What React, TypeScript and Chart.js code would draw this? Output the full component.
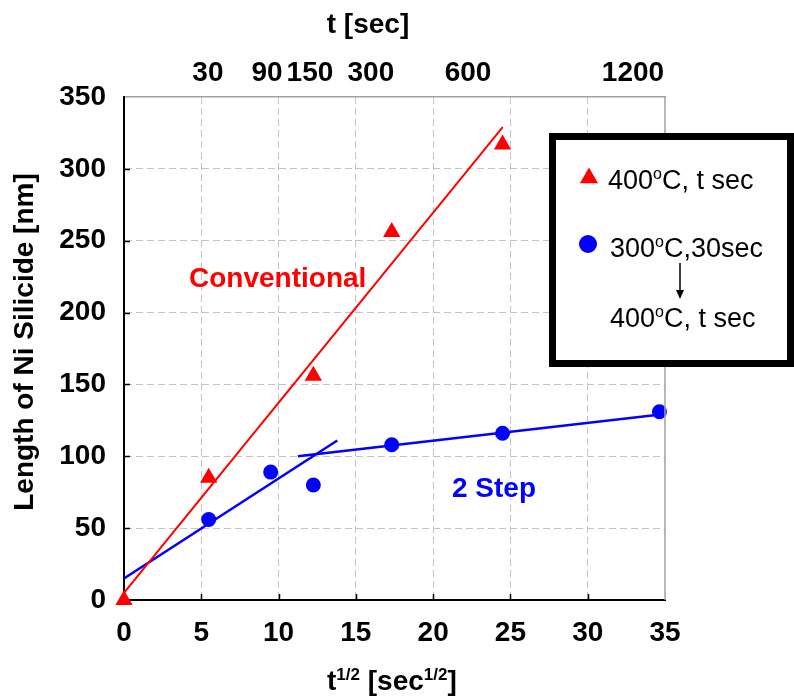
import React, { useEffect, useRef } from 'react';
import { Chart, registerables } from 'chart.js';

Chart.register(...registerables);

// ---- Data ----
const conventionalX = [0, 5.48, 12.25, 17.32, 24.49];
const conventionalY = [0, 85, 156, 256, 317];
const twoStepX = [5.48, 9.49, 12.25, 17.32, 24.49, 34.64];
const twoStepY = [56, 89, 80, 108, 116, 131];
const convFitX = [0, 24.5];
const convFitY = [5, 329];
const twoStepFit1X = [0, 13.8];
const twoStepFit1Y = [15, 111];
const twoStepFit2X = [11.25, 35];
const twoStepFit2Y = [100, 129.5];
const topTickPositions = [5.43, 9.25, 12.03, 15.97, 22.26, 32.93];
const topTickLabels = ['30', '90', '150', '300', '600', '1200'];
const xTickValues = [0, 5, 10, 15, 20, 25, 30, 35];
const yTickValues = [0, 50, 100, 150, 200, 250, 300, 350];

const FONT = "'Liberation Sans', Arial, sans-serif";
const RED = '#ff0000';
const BLUE = '#0000ff';

const pts = (xs: number[], ys: number[]) => xs.map((x, i) => ({ x, y: ys[i] }));

type Seg = { t: string; sup?: boolean };

function drawRich(ctx: CanvasRenderingContext2D, segs: Seg[], x: number, y: number, size: number, supSize: number, weight: string, color: string) {
  ctx.fillStyle = color;
  ctx.textBaseline = 'alphabetic';
  ctx.textAlign = 'left';
  let cx = x;
  for (const s of segs) {
    if (s.sup) {
      ctx.font = `${weight} ${supSize}px ${FONT}`;
      ctx.fillText(s.t, cx, y - size * 0.36);
    } else {
      ctx.font = `${weight} ${size}px ${FONT}`;
      ctx.fillText(s.t, cx, y);
    }
    cx += ctx.measureText(s.t).width;
  }
  return cx - x;
}

const decor = {
  id: 'decor',
  afterDraw(chart: any) {
    const { ctx, chartArea: ca, scales } = chart;
    const xs = scales.x;
    const ys = scales.y;
    ctx.save();
    // right border
    ctx.strokeStyle = '#a0a0a0';
    ctx.lineWidth = 1.5;
    ctx.beginPath();
    ctx.moveTo(ca.right, ca.top);
    ctx.lineTo(ca.right, ca.bottom);
    ctx.stroke();
    // inward ticks
    ctx.strokeStyle = '#000';
    ctx.lineWidth = 1.5;
    ctx.beginPath();
    for (const v of xTickValues.slice(1, -1)) {
      const px = Math.round(xs.getPixelForValue(v)) + 0.5;
      ctx.moveTo(px, ca.bottom);
      ctx.lineTo(px, ca.bottom - 6);
    }
    for (const v of yTickValues.slice(1, -1)) {
      const py = Math.round(ys.getPixelForValue(v)) + 0.5;
      ctx.moveTo(ca.left, py);
      ctx.lineTo(ca.left + 6, py);
    }
    ctx.stroke();

    // titles
    ctx.fillStyle = '#000';
    ctx.font = `bold 28px ${FONT}`;
    ctx.textAlign = 'center';
    ctx.textBaseline = 'middle';
    ctx.fillText('t [sec]', 368, 25);

    drawRich(ctx, [{ t: 't' }, { t: '1/2', sup: true }, { t: ' [sec' }, { t: '1/2', sup: true }, { t: ']' }], 327, 690, 28, 17, 'bold', '#000');

    ctx.save();
    ctx.translate(25, 342);
    ctx.rotate(-Math.PI / 2);
    ctx.font = `bold 28px ${FONT}`;
    ctx.textAlign = 'center';
    ctx.textBaseline = 'middle';
    ctx.fillStyle = '#000';
    ctx.fillText('Length of Ni Silicide [nm]', 0, 0);
    ctx.restore();

    // annotations
    ctx.font = `bold 28px ${FONT}`;
    ctx.textAlign = 'left';
    ctx.textBaseline = 'middle';
    ctx.fillStyle = RED;
    ctx.fillText('Conventional', 189, 279);
    ctx.fillStyle = BLUE;
    ctx.fillText('2 Step', 452, 489);

    // legend box
    ctx.fillStyle = '#fff';
    ctx.fillRect(552, 136, 239, 228);
    ctx.strokeStyle = '#000';
    ctx.lineWidth = 7;
    ctx.strokeRect(552.5, 136.5, 238, 227);

    // triangle
    ctx.fillStyle = RED;
    ctx.beginPath();
    const tr = 10.5;
    const tcx = 589, tcy = 178;
    ctx.moveTo(tcx, tcy - tr);
    ctx.lineTo(tcx + tr * 0.866, tcy + tr * 0.5);
    ctx.lineTo(tcx - tr * 0.866, tcy + tr * 0.5);
    ctx.closePath();
    ctx.fill();
    drawRich(ctx, [{ t: '400' }, { t: 'o', sup: true }, { t: 'C, t sec' }], 608, 189, 27, 16, 'normal', '#000');

    // circle
    ctx.fillStyle = BLUE;
    ctx.beginPath();
    ctx.arc(588, 244, 9, 0, Math.PI * 2);
    ctx.fill();
    drawRich(ctx, [{ t: '300' }, { t: 'o', sup: true }, { t: 'C,30sec' }], 610, 257, 27, 16, 'normal', '#000');

    // arrow
    ctx.strokeStyle = '#000';
    ctx.lineWidth = 1.5;
    ctx.beginPath();
    ctx.moveTo(680, 263);
    ctx.lineTo(680, 292);
    ctx.stroke();
    ctx.fillStyle = '#000';
    ctx.beginPath();
    ctx.moveTo(676, 290);
    ctx.lineTo(684, 290);
    ctx.lineTo(680, 299);
    ctx.closePath();
    ctx.fill();

    drawRich(ctx, [{ t: '400' }, { t: 'o', sup: true }, { t: 'C, t sec' }], 610, 327, 27, 16, 'normal', '#000');

    ctx.restore();
  },
};

export default function App() {
  const ref = useRef<HTMLCanvasElement | null>(null);
  useEffect(() => {
    if (!ref.current) return;
    const gridColor = (c: any) => {
      const v = c.tick ? c.tick.value : null;
      return v === 0 || v === 35 || v === 350 ? 'rgba(0,0,0,0)' : '#c4c4c4';
    };
    const chart = new Chart(ref.current, {
      type: 'scatter',
      data: {
        datasets: [
          {
            label: 'conv',
            data: pts(conventionalX, conventionalY),
            pointStyle: 'triangle',
            pointRadius: 10,
            backgroundColor: RED,
            borderColor: RED,
            borderWidth: 0,
            showLine: false,
            clip: false,
          } as any,
          {
            label: '2step',
            data: pts(twoStepX, twoStepY),
            pointStyle: 'circle',
            pointRadius: 7.5,
            backgroundColor: BLUE,
            borderColor: BLUE,
            borderWidth: 0,
            showLine: false,
            clip: false,
          } as any,
          {
            type: 'line',
            label: 'convFit',
            data: pts(convFitX, convFitY),
            borderColor: RED,
            borderWidth: 2,
            pointRadius: 0,
            fill: false,
          } as any,
          {
            type: 'line',
            label: 'fit1',
            data: pts(twoStepFit1X, twoStepFit1Y),
            borderColor: BLUE,
            borderWidth: 2.5,
            pointRadius: 0,
            fill: false,
          } as any,
          {
            type: 'line',
            label: 'fit2',
            data: pts(twoStepFit2X, twoStepFit2Y),
            borderColor: BLUE,
            borderWidth: 2.5,
            pointRadius: 0,
            fill: false,
          } as any,
        ],
      },
      options: {
        animation: false,
        responsive: false,
        maintainAspectRatio: false,
        layout: { padding: { left: 0, right: 129, top: 0, bottom: 0 } },
        plugins: { legend: { display: false }, tooltip: { enabled: false } },
        scales: {
          x: {
            type: 'linear',
            position: 'bottom',
            min: 0,
            max: 35,
            afterBuildTicks: (s: any) => { s.ticks = xTickValues.map((v) => ({ value: v })); },
            afterFit: (s: any) => { s.height = 98; },
            ticks: {
              autoSkip: false,
              maxRotation: 0,
              minRotation: 0,
              padding: 16,
              color: '#000',
              font: { family: FONT, size: 28, weight: 'bold' },
            },
            grid: { color: gridColor, lineWidth: 1, drawTicks: false },
            border: { display: true, color: '#000', width: 2, dash: [7, 4] },
          },
          x2: {
            type: 'linear',
            position: 'top',
            min: 0,
            max: 35,
            afterBuildTicks: (s: any) => { s.ticks = topTickPositions.map((v) => ({ value: v })); },
            afterFit: (s: any) => { s.height = 97; },
            ticks: {
              autoSkip: false,
              maxRotation: 0,
              minRotation: 0,
              padding: 7,
              color: '#000',
              font: { family: FONT, size: 28, weight: 'bold' },
              callback: (_v: any, i: number) => topTickLabels[i],
            },
            grid: { display: false, drawTicks: false },
            border: { display: true, color: '#a0a0a0', width: 1.5 },
          },
          y: {
            type: 'linear',
            position: 'left',
            min: 0,
            max: 350,
            afterBuildTicks: (s: any) => { s.ticks = yTickValues.map((v) => ({ value: v })); },
            afterFit: (s: any) => { s.width = 124; },
            ticks: {
              autoSkip: false,
              padding: 18,
              color: '#000',
              font: { family: FONT, size: 28, weight: 'bold' },
            },
            grid: { color: gridColor, lineWidth: 1, drawTicks: false },
            border: { display: true, color: '#000', width: 2, dash: [7, 4] },
          },
        },
      } as any,
      plugins: [decor],
    });
    return () => chart.destroy();
  }, []);
  return (
    <div style={{ position: 'absolute', left: 0, top: 0, width: 794, height: 698, background: '#fff' }}>
      <canvas ref={ref} width={794} height={698} style={{ display: 'block', width: 794, height: 698 }} />
    </div>
  );
}
